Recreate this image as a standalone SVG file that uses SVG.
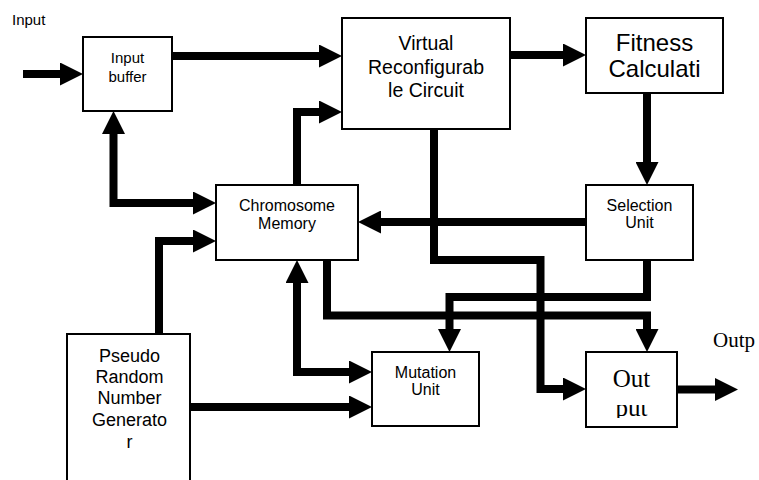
<svg xmlns="http://www.w3.org/2000/svg" width="759" height="480" viewBox="0 0 759 480">
<style>
.box{fill:#fff;stroke:#000;stroke-width:2}
.t{font-family:"Liberation Sans",Arial,sans-serif;fill:#000;text-anchor:middle}
.s{font-family:"Liberation Serif","Times New Roman",serif;fill:#000}
.c{fill:none;stroke:#000;stroke-width:8;stroke-linejoin:miter}
.e{marker-end:url(#ah)}
.b{marker-start:url(#ah);marker-end:url(#ah)}
</style>
<defs>
<marker id="ah" markerUnits="userSpaceOnUse" markerWidth="23" markerHeight="23" viewBox="0 0 23 23" refX="3" refY="11.5" orient="auto-start-reverse">
<path d="M0,0 L23,11.5 L0,23 z" fill="#000"/>
</marker>
<clipPath id="putclip"><rect x="600" y="405" width="60" height="13"/></clipPath>
</defs>
<g id="connectors">
<path class="c e" d="M23,74 H63"/>
<path class="c e" d="M172,56 H322"/>
<path class="c e" d="M510,55 H566"/>
<path class="c e" d="M647,93 V165"/>
<path class="c e" d="M586,222 H378"/>
<path class="c b" d="M113.5,131 V203 H196"/>
<path class="c e" d="M297,185 V112 H322"/>
<path class="c e" d="M159,334 V241 H196"/>
<path class="c e" d="M190,407 H352"/>
<path class="c b" d="M297,280 V372 H352"/>
<path class="c e" d="M327,260 V315.5 H647 V332"/>
<path class="c e" d="M434,129 V260 H540.5 V389 H566"/>
<path class="c e" d="M647,260 V297 H449.5 V332"/>
<path class="c e" d="M677,389.5 H718"/>
</g>
<text class="t" x="12" y="25" font-size="15" style="text-anchor:start">Input</text>
<text class="s" x="713" y="347" font-size="21">Outp</text>
<g id="input-buffer">
<rect class="box" x="83" y="37" width="89" height="74"/>
<text class="t" x="127.5" y="63" font-size="15">Input</text>
<text class="t" x="127.5" y="82" font-size="15">buffer</text>
</g>
<g id="vrc">
<rect class="box" x="342" y="18" width="168" height="111"/>
<text class="t" x="426" y="50" font-size="19.5">Virtual</text>
<text class="t" x="426" y="74" font-size="19.5">Reconfigurab</text>
<text class="t" x="426" y="97" font-size="19.5">le Circuit</text>
</g>
<g id="fitness">
<rect class="box" x="586" y="18" width="137" height="75"/>
<text class="t" x="654.5" y="51" font-size="24">Fitness</text>
<text class="t" x="654.5" y="77" font-size="24">Calculati</text>
</g>
<g id="chromosome-memory">
<rect class="box" x="216" y="185" width="142" height="75"/>
<text class="t" x="287" y="211" font-size="16">Chromosome</text>
<text class="t" x="287" y="229" font-size="16">Memory</text>
</g>
<g id="selection-unit">
<rect class="box" x="586" y="185" width="107" height="75"/>
<text class="t" x="639.5" y="211" font-size="16">Selection</text>
<text class="t" x="639.5" y="228" font-size="16">Unit</text>
</g>
<g id="mutation-unit">
<rect class="box" x="372" y="352" width="107" height="74"/>
<text class="t" x="425.5" y="378" font-size="16">Mutation</text>
<text class="t" x="425.5" y="395" font-size="16">Unit</text>
</g>
<g id="output">
<rect class="box" x="586" y="352" width="91" height="75"/>
<text class="s" x="631.5" y="387" font-size="25" text-anchor="middle">Out</text>
<text class="s" x="631.5" y="416" font-size="25" text-anchor="middle" clip-path="url(#putclip)">put</text>
</g>
<g id="prng">
<rect class="box" x="67" y="334" width="123" height="156"/>
<text class="t" x="129.5" y="362" font-size="18">Pseudo</text>
<text class="t" x="129.5" y="383" font-size="18">Random</text>
<text class="t" x="129.5" y="404" font-size="18">Number</text>
<text class="t" x="129.5" y="426" font-size="18">Generato</text>
<text class="t" x="129.5" y="448" font-size="18">r</text>
</g>
</svg>
